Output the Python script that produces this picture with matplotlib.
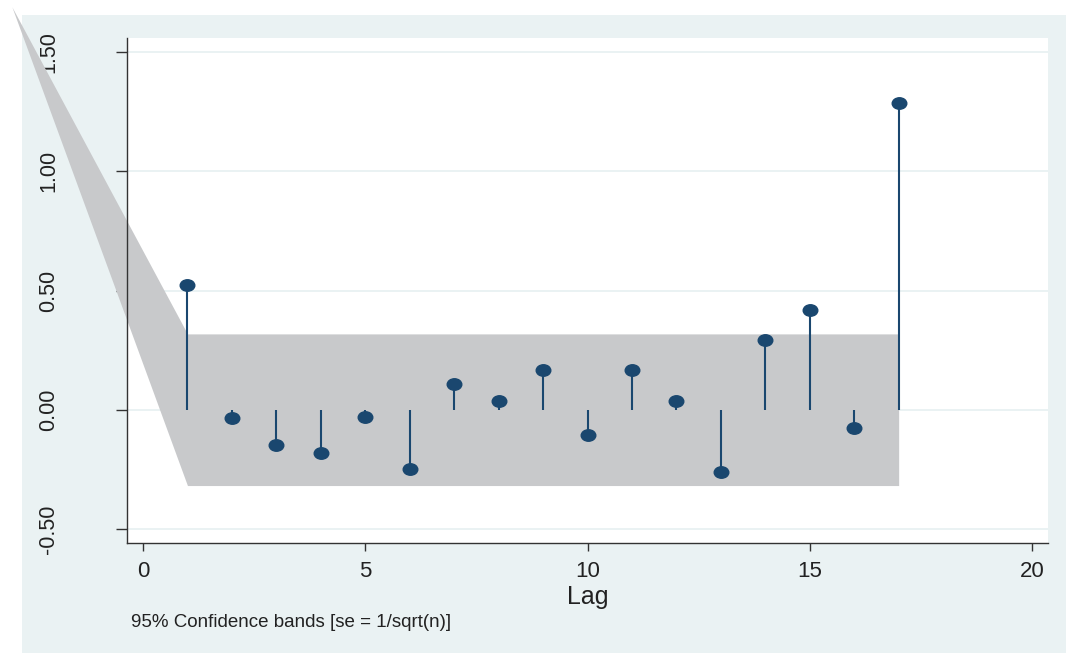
"""Partial autocorrelation plot with 95% confidence band, Stata s2color look."""

import matplotlib

matplotlib.use("Agg")
import matplotlib.pyplot as plt
from matplotlib.markers import MarkerStyle
from matplotlib.patches import Rectangle
from matplotlib.path import Path
from matplotlib.transforms import Affine2D

plt.rcParams["font.family"] = ["Liberation Sans", "DejaVu Sans"]

lags = list(range(1, 18))
pacf = [0.525, -0.035, -0.147, -0.181, -0.029, -0.249, 0.109, 0.035, 0.165,
        -0.105, 0.168, 0.035, -0.263, 0.294, 0.420, -0.077, 1.285]

# confidence band outline (the lag-0 apex runs off the plot region)
band_lags = [-2.95, 1, 17]
band_upper = [1.69, 0.318, 0.318]
band_lower = [1.69, -0.318, -0.318]

yticks = [-0.5, 0.0, 0.5, 1.0, 1.5]
ytick_labels = ["-0.50", "0.00", "0.50", "1.00", "1.50"]
xticks = [0, 5, 10, 15, 20]

NAVY = "#1a476f"
BAND = "#c8c9cb"
BG = "#eaf2f3"
INK = "#222222"
AXIS = "#333333"

W, H = 1066, 653
fig = plt.figure(figsize=(W / 100, H / 100), dpi=100, facecolor="white")
fig.patches.append(
    Rectangle((22 / W, 0), 1 - 22 / W, 1 - 15 / H, transform=fig.transFigure,
              facecolor=BG, edgecolor="none", zorder=-5)
)

ax = fig.add_axes([127 / W, 110 / H, 921 / W, 505 / H])
ax.set_facecolor("white")

ax.fill_between(band_lags, band_lower, band_upper, color=BAND, lw=0,
                clip_on=False, zorder=1)

ax.vlines(lags, 0, pacf, color=NAVY, lw=1.5, zorder=3)
ellipse = Path.unit_circle().transformed(Affine2D().scale(1.27, 1.0))
ax.plot(lags, pacf, linestyle="none", marker=MarkerStyle(ellipse),
        markersize=10.5, color=NAVY, zorder=4)

ax.set_xlim(-0.36, 20.36)
ax.set_ylim(-0.559, 1.559)

ax.set_yticks(yticks)
ax.set_yticklabels(ytick_labels, rotation=90, va="center", fontsize=15.5, color=INK)
ax.set_xticks(xticks)
ax.set_xticklabels([str(t) for t in xticks], fontsize=16, color=INK)
ax.tick_params(axis="y", length=8, width=1, color=AXIS, pad=41)
ax.tick_params(axis="x", length=6, width=1, color=AXIS, pad=7)

ax.set_axisbelow(True)
ax.grid(axis="y", color=BG, lw=1.4)
ax.grid(axis="x", visible=False)

for side in ("top", "right"):
    ax.spines[side].set_visible(False)
for side in ("left", "bottom"):
    ax.spines[side].set_color(AXIS)
    ax.spines[side].set_linewidth(1.0)

ax.set_xlabel("Lag", fontsize=18, color=INK, labelpad=2)

fig.text(131 / W, 1 - 627 / H, "95% Confidence bands [se = 1/sqrt(n)]",
         fontsize=13.5, color=INK, ha="left", va="baseline")

fig.savefig("out.png", dpi=100, facecolor=fig.get_facecolor())
